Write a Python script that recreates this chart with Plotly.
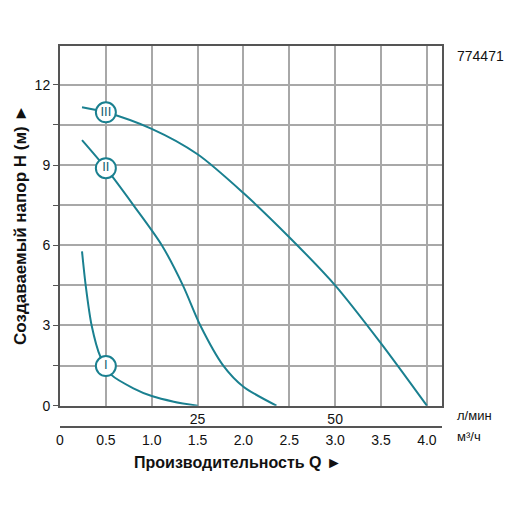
import plotly.graph_objects as go

# pump curves, Q in m3/h, H in m
q_1 = [0.24, 0.28, 0.345, 0.44, 0.5, 0.56, 0.8, 1.0, 1.24, 1.5]
h_1 = [5.77, 4.5, 3.0, 1.83, 1.48, 1.15, 0.65, 0.36, 0.15, 0.0]

q_2 = [0.24, 0.5, 0.8, 1.11, 1.34, 1.53, 1.78, 2.0, 2.36]
h_2 = [9.93, 8.88, 7.5, 6.0, 4.5, 3.0, 1.5, 0.71, 0.0]

q_3 = [0.24, 0.5, 1.0, 1.5, 2.0, 2.5, 3.0, 3.5, 4.0]
h_3 = [11.16, 10.97, 10.35, 9.4, 7.95, 6.3, 4.5, 2.33, 0.0]

# speed markers sit on each curve at Q = 0.5
speed_names = ["I", "II", "III"]
speed_q = [0.5, 0.5, 0.5]
speed_h = [1.48, 8.88, 10.97]

m3h_ticks = [0, 0.5, 1.0, 1.5, 2.0, 2.5, 3.0, 3.5, 4.0]
lmin_ticks = [25, 50]
h_ticks = [0, 3, 6, 9, 12]

TEAL = "#1a8090"
GRID = "#a8a8a8"
FRAME = "#555555"
FONT = "Liberation Sans"

fig = go.Figure()

for q, h in [(q_1, h_1), (q_2, h_2), (q_3, h_3)]:
    fig.add_trace(go.Scatter(x=q, y=h, mode="lines",
                             line=dict(color=TEAL, width=2, shape="spline", smoothing=0.8),
                             hoverinfo="skip", showlegend=False))

fig.add_trace(go.Scatter(x=speed_q, y=speed_h, mode="markers+text", xaxis="x2",
                         text=speed_names, textposition="middle center",
                         textfont=dict(family=FONT, size=13, color="#14606e"),
                         marker=dict(size=20, color="white", line=dict(color=TEAL, width=2)),
                         hoverinfo="skip", showlegend=False))

x_range = [0, 4.165]

fig.update_layout(
    width=512, height=512,
    margin=dict(l=52, r=78, t=38, b=93, autoexpand=False),
    paper_bgcolor="white", plot_bgcolor="white",
    font=dict(family=FONT, size=14, color="#111111"),
    # l/min scale, gridlines every 0.5 m3/h
    xaxis=dict(range=x_range, tickvals=[v * 60 / 1000 for v in lmin_ticks],
               ticktext=[str(v) for v in lmin_ticks],
               showgrid=True, gridcolor=GRID, gridwidth=1.5,
               minor=dict(dtick=0.5, showgrid=True, gridcolor=GRID, gridwidth=1.5),
               showline=True, linecolor=FRAME, linewidth=2, mirror=True,
               ticks="", zeroline=False, automargin=False),
    # m3/h scale below
    xaxis2=dict(range=x_range, overlaying="x", anchor="free", position=0, side="bottom",
                tickvals=m3h_ticks,
                ticktext=["0"] + [f"{v:.1f}" for v in m3h_ticks[1:]],
                showgrid=False, showline=True, linecolor=FRAME, linewidth=1.5,
                ticks="", zeroline=False, automargin=False),
    yaxis=dict(range=[0, 13.45], domain=[0.056, 1], tickvals=h_ticks,
               showgrid=True, gridcolor=GRID, gridwidth=1.5,
               minor=dict(dtick=1.5, showgrid=True, gridcolor=GRID, gridwidth=1.5,
                          ticks="outside", ticklen=5, tickcolor=FRAME),
               ticks="outside", ticklen=5, tickcolor=FRAME,
               showline=True, linecolor=FRAME, linewidth=2, mirror=True,
               zeroline=False, automargin=False),
)

fig.add_annotation(text="<b>Создаваемый напор H (м) ►</b>", xref="paper", yref="paper",
                   x=-0.105, y=0.53, xanchor="center", yanchor="middle", textangle=-90,
                   showarrow=False, font=dict(size=17))
fig.add_annotation(text="<b>Производительность Q ►</b>", xref="paper", yref="paper",
                   x=0.466, y=-0.092, xanchor="center", yanchor="middle", showarrow=False,
                   font=dict(size=16))
fig.add_annotation(text="л/мин", xref="paper", yref="paper", x=1.034, y=0.029,
                   xanchor="left", yanchor="middle", showarrow=False, font=dict(size=13))
fig.add_annotation(text="м³/ч", xref="paper", yref="paper", x=1.034, y=-0.026,
                   xanchor="left", yanchor="middle", showarrow=False, font=dict(size=13))
fig.add_annotation(text="774471", xref="paper", yref="paper", x=1.034, y=0.974,
                   xanchor="left", yanchor="middle", showarrow=False, font=dict(size=14))

fig.write_html("out.html")
